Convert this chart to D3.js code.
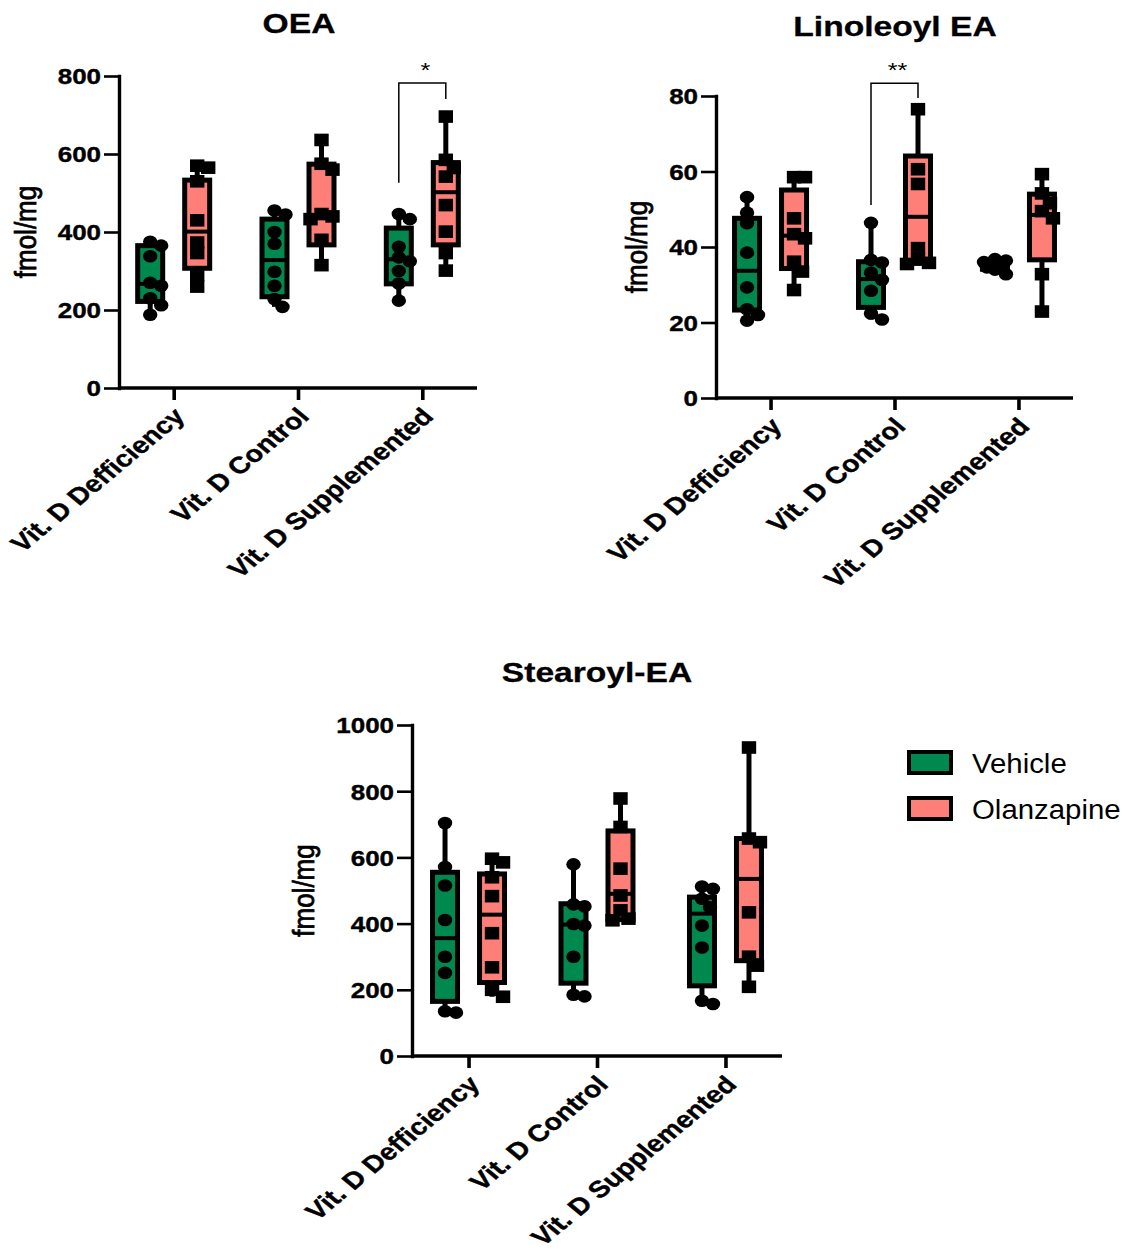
<!DOCTYPE html>
<html>
<head>
<meta charset="utf-8">
<script src="https://cdn.jsdelivr.net/npm/d3@7"></script>
<style>
  body { margin: 0; background: #fff; }
  svg { display: block; }
  text { font-family: "Liberation Sans", Arial, Helvetica, sans-serif; fill: #000; }
</style>
</head>
<body>
<svg id="chart" width="1128" height="1260"></svg>
<script>
// ---- data -------------------------------------------------------------
const categories = ["Vit. D Defficiency", "Vit. D Control", "Vit. D Supplemented"];
const seriesNames = ["Vehicle", "Olanzapine"];

// OEA (fmol/mg): individual animals per diet group
const oeaTicks = [0, 200, 400, 600, 800];
const oeaVehicle = [
  [188, 212, 230, 262, 270, 338, 365, 375],
  [208, 228, 262, 298, 370, 400, 445, 455],
  [224, 268, 300, 325, 335, 362, 433, 446]
];
const oeaOlanzapine = [
  [260, 290, 346, 373, 430, 530, 565, 570],
  [315, 380, 433, 440, 446, 560, 575, 636],
  [301, 346, 401, 469, 542, 564, 585, 696]
];
// box summaries: [min, Q1, median, Q3, max]
const oeaVehicleBox = [
  [188, 222, 267, 365, 375],
  [208, 234, 328, 433, 455],
  [224, 267, 330, 410, 446]
];
const oeaOlanzapineBox = [
  [260, 307, 401, 533, 570],
  [315, 367, 443, 574, 636],
  [301, 367, 502, 578, 696]
];
// [category, label, bracket top, vehicle end, olanzapine end]
const oeaBracket = ["Vit. D Supplemented", "*", 782, 526, 741];

// Linoleoyl EA (fmol/mg)
const linTicks = [0, 20, 40, 60, 80];
const linVehicle = [
  [20.5, 22.0, 23.5, 29.3, 38.5, 46.3, 49.1, 53.2],
  [20.8, 22.4, 28.4, 31.3, 33.2, 35.9, 36.6, 46.4],
  [32.8, 34.0, 34.6, 35.2, 35.6, 36.0, 36.4, 36.8]
];
const linOlanzapine = [
  [28.6, 33.5, 36.1, 42.3, 43.4, 47.6, 58.5, 58.5],
  [35.5, 35.8, 36.7, 39.7, 56.7, 60.6, 76.5],
  [22.9, 32.8, 47.6, 49.5, 51.6, 54.2, 59.3]
];
const linVehicleBox = [
  [20.5, 23.3, 33.7, 47.6, 53.2],
  [20.8, 24.0, 31.5, 36.1, 46.4],
  [32.8, 34.1, 34.9, 35.8, 36.8]
];
const linOlanzapineBox = [
  [28.6, 34.3, 43.0, 55.1, 58.5],
  [35.5, 35.7, 48.0, 64.1, 76.5],
  [22.9, 36.6, 48.5, 54.0, 59.3]
];
const linBracket = ["Vit. D Control", "**", 83.4, 51.1, 79.5];

// Stearoyl-EA (fmol/mg)
const steTicks = [0, 200, 400, 600, 800, 1000];
const steVehicle = [
  [131, 135, 251, 300, 411, 515, 571, 704],
  [180, 185, 300, 394, 399, 452, 458, 579],
  [157, 167, 328, 394, 449, 475, 505, 512]
];
const steOlanzapine = [
  [179, 200, 268, 371, 483, 540, 585, 596],
  [410, 415, 440, 485, 566, 692, 778],
  [209, 273, 300, 434, 646, 657, 932]
];
const steVehicleBox = [
  [131, 165, 356, 555, 704],
  [180, 220, 397, 460, 579],
  [157, 212, 430, 480, 512]
];
const steOlanzapineBox = [
  [179, 222, 427, 550, 596],
  [410, 412, 490, 680, 778],
  [209, 288, 535, 657, 932]
];

// ---- styling ----------------------------------------------------------
const fills = { "Vehicle": "#00894f", "Olanzapine": "#fe7f78" };
const SX = 1.2;          // horizontal glyph stretch used throughout
const yLabel = "fmol/mg";

const panels = [
  { title: "OEA", ticks: oeaTicks, bracket: oeaBracket,
    data: { "Vehicle": oeaVehicle, "Olanzapine": oeaOlanzapine },
    boxes: { "Vehicle": oeaVehicleBox, "Olanzapine": oeaOlanzapineBox },
    frame: { left: 119, right: 477, top: 76, bottom: 388 }, titleX: 299, titleY: 33 },
  { title: "Linoleoyl EA", ticks: linTicks, bracket: linBracket,
    data: { "Vehicle": linVehicle, "Olanzapine": linOlanzapine },
    boxes: { "Vehicle": linVehicleBox, "Olanzapine": linOlanzapineBox },
    frame: { left: 716, right: 1073, top: 96, bottom: 398 }, titleX: 895, titleY: 36 },
  { title: "Stearoyl-EA", ticks: steTicks, bracket: null,
    data: { "Vehicle": steVehicle, "Olanzapine": steOlanzapine },
    boxes: { "Vehicle": steVehicleBox, "Olanzapine": steOlanzapineBox },
    frame: { left: 412, right: 782, top: 725, bottom: 1056 }, titleX: 597, titleY: 682 }
];

const svg = d3.select("#chart");

// nudge coincident points sideways, keeping them inside the box width
function dodge(values, y) {
  const order = d3.range(values.length).sort((a, b) => values[b] - values[a]);
  const cands = [0, 8, -8, 11, -11];
  const placed = [];
  const offs = new Array(values.length).fill(0);
  for (const i of order) {
    const yi = y(values[i]);
    let best = 0, bestD = -1;
    for (const c of cands) {
      const d = placed.length ? d3.min(placed, p => Math.hypot((p.x - c) / 1.15, p.y - yi)) : Infinity;
      if (d >= 10) { best = c; bestD = d; break; }
      if (d > bestD) { bestD = d; best = c; }
    }
    offs[i] = best;
    placed.push({ x: best, y: yi });
  }
  return offs;
}

panels.forEach(p => {
  const f = p.frame;
  const g = svg.append("g");
  const y = d3.scaleLinear().domain([0, d3.max(p.ticks)]).range([f.bottom, f.top]);
  const x = d3.scalePoint().domain(categories).range([f.left, f.right]).padding(0.44);
  const off = d3.scalePoint().domain(seriesNames).range([-23.5, 23.5]);

  // title
  g.append("text")
    .attr("transform", `translate(${p.titleX},${p.titleY}) scale(${SX},1)`)
    .attr("text-anchor", "middle")
    .attr("font-size", 28).attr("font-weight", "bold")
    .attr("stroke", "#000").attr("stroke-width", 0.3)
    .text(p.title);

  // y axis
  const ya = g.append("g").attr("transform", `translate(${f.left},0)`)
    .call(d3.axisLeft(y).tickValues(p.ticks).tickFormat(d3.format("d"))
      .tickSize(15).tickSizeOuter(0).tickPadding(3));
  ya.select(".domain").attr("stroke-width", 3.4).attr("stroke-linecap", "square");
  ya.selectAll(".tick line").attr("stroke-width", 2.6);
  ya.selectAll(".tick text").each(function () {
    const t = d3.select(this);
    const tx = +t.attr("x");
    t.attr("x", 0).attr("transform", `translate(${tx},0) scale(1.18,1)`)
      .attr("font-size", 22).attr("font-weight", "bold")
      .attr("stroke", "#000").attr("stroke-width", 0.4)
      .attr("font-family", "Liberation Sans, Arial, sans-serif").attr("dy", "0.36em");
  });

  // y axis title placed left of the widest tick label
  let minLeft = Infinity;
  ya.selectAll(".tick text").each(function () {
    const b = this.getBoundingClientRect();
    minLeft = Math.min(minLeft, b.left);
  });
  const cy = (f.top + f.bottom) / 2;
  g.append("text")
    .attr("transform", `translate(${minLeft - 32},${cy}) scale(1.12,1) rotate(-90)`)
    .attr("text-anchor", "middle").attr("dominant-baseline", "central")
    .attr("font-size", 26)
    .attr("stroke", "#000").attr("stroke-width", 0.7)
    .text(yLabel);

  // x axis
  const xa = g.append("g").attr("transform", `translate(0,${f.bottom})`)
    .call(d3.axisBottom(x).tickSize(12).tickSizeOuter(0).tickPadding(0));
  xa.select(".domain").attr("stroke-width", 3.4)
    .attr("d", `M${f.left},0H${f.right}`);
  xa.selectAll(".tick line").attr("stroke-width", 3.6);
  xa.selectAll(".tick text")
    .attr("x", 0).attr("y", 0).attr("dy", "0.35em")
    .attr("text-anchor", "end")
    .attr("font-size", 23.5).attr("font-weight", "bold")
    .attr("stroke", "#000").attr("stroke-width", 0.4)
    .attr("font-family", "Liberation Sans, Arial, sans-serif")
    .attr("transform", `translate(5,24) scale(1.21,1) rotate(-45)`);

  // boxes
  const boxW = 25;
  seriesNames.forEach(s => {
    categories.forEach((c, ci) => {
      const cx = x(c) + off(s);
      const [mn, q1, md, q3, mx] = p.boxes[s][ci];
      const bg = g.append("g");
      bg.append("line").attr("x1", cx).attr("x2", cx)
        .attr("y1", y(mn)).attr("y2", y(mx))
        .attr("stroke", "#000").attr("stroke-width", 5);
      bg.append("rect").attr("x", cx - boxW / 2).attr("width", boxW)
        .attr("y", y(q3)).attr("height", Math.max(0.5, y(q1) - y(q3)))
        .attr("fill", fills[s]).attr("stroke", "#000").attr("stroke-width", 5);
      bg.append("line").attr("x1", cx - boxW / 2).attr("x2", cx + boxW / 2)
        .attr("y1", y(md)).attr("y2", y(md))
        .attr("stroke", "#000").attr("stroke-width", 4);

      const vals = p.data[s][ci];
      const offs = dodge(vals, y);
      vals.forEach((v, i) => {
        const px = cx + offs[i], py = y(v);
        if (s === "Vehicle") {
          bg.append("ellipse").attr("cx", px).attr("cy", py)
            .attr("rx", 7.2).attr("ry", 6.3).attr("fill", "#000");
        } else {
          bg.append("rect").attr("x", px - 7.2).attr("y", py - 6.3)
            .attr("width", 14.4).attr("height", 12.6).attr("fill", "#000");
        }
      });
    });
  });

  // significance bracket
  if (p.bracket) {
    const [cat, label, topV, leftV, rightV] = p.bracket;
    const xl = x(cat) + off("Vehicle");
    const xr = x(cat) + off("Olanzapine");
    g.append("path")
      .attr("d", `M${xl},${y(leftV)}V${y(topV)}H${xr}V${y(rightV)}`)
      .attr("fill", "none").attr("stroke", "#000").attr("stroke-width", 1.5);
    g.append("text")
      .attr("transform", `translate(${(xl + xr) / 2 + 3},${y(topV) - 6}) scale(${SX},1)`)
      .attr("text-anchor", "middle").attr("font-size", 21)
      .text(label);
  }
});

// legend
const lg = svg.append("g").attr("transform", "translate(909,752)");
seriesNames.forEach((s, i) => {
  const row = lg.append("g").attr("transform", `translate(0,${i * 46})`);
  row.append("rect").attr("x", 0).attr("y", 0).attr("width", 42).attr("height", 21)
    .attr("fill", fills[s]).attr("stroke", "#000").attr("stroke-width", 4);
  row.append("text")
    .attr("transform", `translate(63,21) scale(1.05,1)`)
    .attr("font-size", 28)
    .text(s);
});
</script>
</body>
</html>
